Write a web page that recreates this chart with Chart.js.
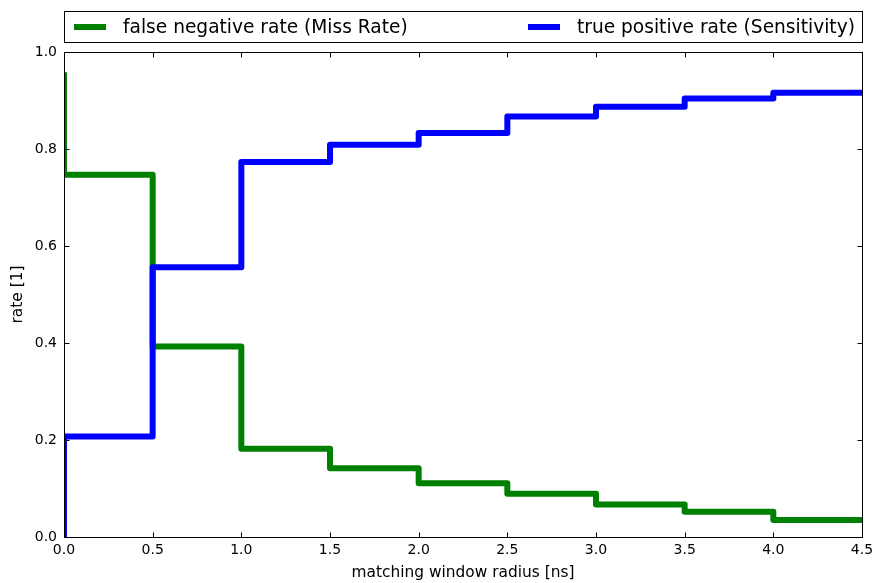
<!DOCTYPE html>
<html>
<head>
<meta charset="utf-8">
<script src="https://cdn.jsdelivr.net/npm/chart.js@4/dist/chart.umd.min.js"></script>
<style>
  html, body { margin: 0; padding: 0; background: #fff; }
  #wrap { width: 874px; height: 583px; position: relative; }
</style>
</head>
<body>
<div id="wrap"><canvas id="c" width="874" height="583"></canvas></div>
<script>
// ---- data ----
const windowRadius = [0.0, 0.5, 1.0, 1.5, 2.0, 2.5, 3.0, 3.5, 4.0, 4.5];
const missRate     = [0.958, 0.747, 0.393, 0.182, 0.142, 0.111, 0.089, 0.067, 0.052, 0.035];
const sensitivity  = [0.0, 0.207, 0.556, 0.773, 0.809, 0.833, 0.867, 0.887, 0.904, 0.916];
const seriesLabels = ['false negative rate (Miss Rate)', 'true positive rate (Sensitivity)'];
const seriesColors = ['#008000', '#0000ff'];
const xTickValues  = [0.0, 0.5, 1.0, 1.5, 2.0, 2.5, 3.0, 3.5, 4.0, 4.5];
const yTickValues  = [0.0, 0.2, 0.4, 0.6, 0.8, 1.0];
const xTitle = 'matching window radius [ns]';
const yTitle = 'rate [1]';

const FONT = "'DejaVu Sans', sans-serif";

const framePlugin = {
  id: 'frame',
  afterDatasetsDraw(chart) {
    const { ctx, chartArea, scales } = chart;
    const l = Math.round(chartArea.left) + 0.5, r = Math.round(chartArea.right) + 0.5;
    const t = Math.round(chartArea.top) + 0.5, b = Math.round(chartArea.bottom) + 0.5;
    ctx.save();
    ctx.strokeStyle = '#000';
    ctx.lineWidth = 1;
    ctx.strokeRect(l, t, r - l, b - t);
    const tl = 5;
    ctx.beginPath();
    xTickValues.forEach(v => {
      const px = Math.round(scales.x.getPixelForValue(v)) + 0.5;
      ctx.moveTo(px, b); ctx.lineTo(px, b - tl);
      ctx.moveTo(px, t); ctx.lineTo(px, t + tl);
    });
    yTickValues.forEach(v => {
      const py = Math.round(scales.y.getPixelForValue(v)) + 0.5;
      ctx.moveTo(l, py); ctx.lineTo(l + tl, py);
      ctx.moveTo(r, py); ctx.lineTo(r - tl, py);
    });
    ctx.stroke();
    ctx.restore();
  },
  afterDraw(chart) {
    const { ctx, chartArea } = chart;
    const l = Math.round(chartArea.left) + 0.5, r = Math.round(chartArea.right) + 0.5;
    const top = 11.5, bot = 42.5;
    ctx.save();
    ctx.fillStyle = '#fff';
    ctx.fillRect(l, top, r - l, bot - top);
    ctx.strokeStyle = '#000';
    ctx.lineWidth = 1;
    ctx.strokeRect(l, top, r - l, bot - top);
    const cy = 27;
    const starts = [l + 9.5, l + 463.5];
    ctx.font = '18.6px ' + FONT;
    ctx.textBaseline = 'middle';
    ctx.textAlign = 'left';
    seriesLabels.forEach((lab, i) => {
      const sx = starts[i];
      ctx.strokeStyle = seriesColors[i];
      ctx.lineWidth = 6;
      ctx.lineCap = 'butt';
      ctx.beginPath();
      ctx.moveTo(sx, cy); ctx.lineTo(sx + 32, cy);
      ctx.stroke();
      ctx.fillStyle = '#000';
      ctx.fillText(lab, sx + 49, cy + 1);
    });
    ctx.restore();
  }
};

const toPoints = arr => arr.map((v, i) => ({ x: windowRadius[i], y: v }));

new Chart(document.getElementById('c'), {
  type: 'line',
  data: {
    datasets: [
      {
        label: seriesLabels[0],
        data: toPoints(missRate),
        borderColor: seriesColors[0],
        backgroundColor: seriesColors[0],
        borderWidth: 6,
        stepped: 'after',
        pointRadius: 0,
        borderJoinStyle: 'round',
        fill: false,
        clip: 0,
        order: 1
      },
      {
        label: seriesLabels[1],
        data: toPoints(sensitivity),
        borderColor: seriesColors[1],
        backgroundColor: seriesColors[1],
        borderWidth: 6,
        stepped: 'after',
        pointRadius: 0,
        borderJoinStyle: 'round',
        fill: false,
        clip: 0,
        order: 0
      }
    ]
  },
  options: {
    responsive: false,
    animation: false,
    devicePixelRatio: 1,
    layout: { padding: { top: 52, right: 12, bottom: 0, left: 0 } },
    plugins: { legend: { display: false }, tooltip: { enabled: false } },
    scales: {
      x: {
        type: 'linear',
        min: 0, max: 4.5,
        afterBuildTicks: s => { s.ticks = xTickValues.map(v => ({ value: v })); },
        afterFit: s => { s.height = 46; s.paddingLeft = 0; s.paddingRight = 0; },
        grid: { display: false, drawTicks: false },
        border: { display: false },
        ticks: {
          color: '#000',
          font: { family: FONT, size: 14 },
          padding: 5,
          maxRotation: 0,
          callback: v => Number(v).toFixed(1)
        },
        title: {
          display: true, text: xTitle, color: '#000',
          font: { family: FONT, size: 15.4 },
          padding: { top: 0, bottom: 1 }
        }
      },
      y: {
        type: 'linear',
        min: 0, max: 1,
        afterBuildTicks: s => { s.ticks = yTickValues.map(v => ({ value: v })); },
        afterFit: s => { s.width = 64; s.paddingTop = 0; s.paddingBottom = 0; },
        grid: { display: false, drawTicks: false },
        border: { display: false },
        ticks: {
          color: '#000',
          font: { family: FONT, size: 14 },
          padding: 7,
          callback: v => Number(v).toFixed(1)
        },
        title: {
          display: true, text: yTitle, color: '#000',
          font: { family: FONT, size: 15.4 },
          padding: { top: 9, bottom: 0 }
        }
      }
    }
  },
  plugins: [framePlugin]
});
</script>
</body>
</html>
